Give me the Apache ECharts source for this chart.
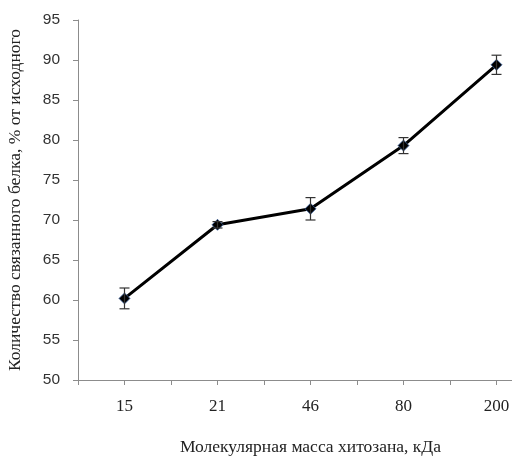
<!DOCTYPE html>
<html>
<head>
<meta charset="utf-8">
<script src="https://cdn.jsdelivr.net/npm/echarts@6/dist/echarts.min.js"></script>
<style>
  html, body { margin: 0; padding: 0; background: #fff; }
  #chart { width: 512px; height: 456px; }
</style>
</head>
<body>
<div id="chart"></div>
<script>
// Molecular mass of chitosan, kDa
const categories = ['15', '21', '46', '80', '200'];
// Bound protein, % of initial amount
const boundProtein = [60.2, 69.4, 71.4, 79.3, 89.4];
// Standard deviation for each point
const errors = [1.3, 0.4, 1.4, 1.0, 1.2];

const errorData = boundProtein.map((v, i) => [i, v - errors[i], v + errors[i]]);

const serif = 'Liberation Serif, Times New Roman, serif';
const chart = echarts.init(document.getElementById('chart'));

chart.setOption({
  animation: false,
  // plot area runs past the right edge, so the last category sits near the border
  grid: { left: 78, top: 20, height: 360, width: 465, outerBoundsMode: 'none', containLabel: false },
  xAxis: [
    {
      type: 'category',
      data: categories,
      boundaryGap: true,
      position: 'bottom',
      name: 'Молекулярная масса хитозана, кДа',
      nameLocation: 'middle',
      nameGap: 58,
      nameTextStyle: { fontFamily: serif, fontSize: 17.5, color: '#222' },
      axisLine: { lineStyle: { color: '#8c8c8c', width: 1 } },
      axisTick: { show: true, interval: 0, alignWithLabel: false, length: 5, lineStyle: { color: '#8c8c8c' } },
      axisLabel: { fontFamily: serif, fontSize: 17, color: '#222', margin: 18 },
      splitLine: { show: false }
    },
    {
      type: 'category',
      data: categories,
      boundaryGap: true,
      position: 'bottom',
      axisLine: { show: false },
      axisTick: { show: true, interval: 0, alignWithLabel: true, length: 5, lineStyle: { color: '#8c8c8c' } },
      axisLabel: { show: false },
      splitLine: { show: false }
    }
  ],
  yAxis: {
    type: 'value',
    min: 50,
    max: 95,
    interval: 5,
    name: 'Количество связанного белка, % от исходного',
    nameLocation: 'middle',
    nameGap: 54,
    nameTextStyle: { fontFamily: serif, fontSize: 17.5, color: '#222' },
    axisLine: { show: true, lineStyle: { color: '#8c8c8c', width: 1 } },
    axisTick: { show: true, length: 5, lineStyle: { color: '#8c8c8c' } },
    axisLabel: { fontFamily: 'Liberation Sans, Arial, sans-serif', fontSize: 15.5, color: '#333', margin: 18 },
    splitLine: { show: false }
  },
  series: [
    {
      type: 'line',
      data: boundProtein,
      symbol: 'diamond',
      symbolSize: 11,
      lineStyle: { color: '#000', width: 3 },
      itemStyle: { color: '#000', borderColor: '#3a5f9a', borderWidth: 0.8 },
      z: 3
    },
    {
      type: 'custom',
      data: errorData,
      z: 4,
      renderItem: function (params, api) {
        const x = api.value(0);
        const lo = api.coord([x, api.value(1)]);
        const hi = api.coord([x, api.value(2)]);
        const cap = 5;
        const style = { stroke: '#333', lineWidth: 1.2, fill: null };
        return {
          type: 'group',
          children: [
            { type: 'line', shape: { x1: lo[0], y1: lo[1], x2: hi[0], y2: hi[1] }, style: style },
            { type: 'line', shape: { x1: lo[0] - cap, y1: lo[1], x2: lo[0] + cap, y2: lo[1] }, style: style },
            { type: 'line', shape: { x1: hi[0] - cap, y1: hi[1], x2: hi[0] + cap, y2: hi[1] }, style: style }
          ]
        };
      }
    }
  ]
});
</script>
</body>
</html>
